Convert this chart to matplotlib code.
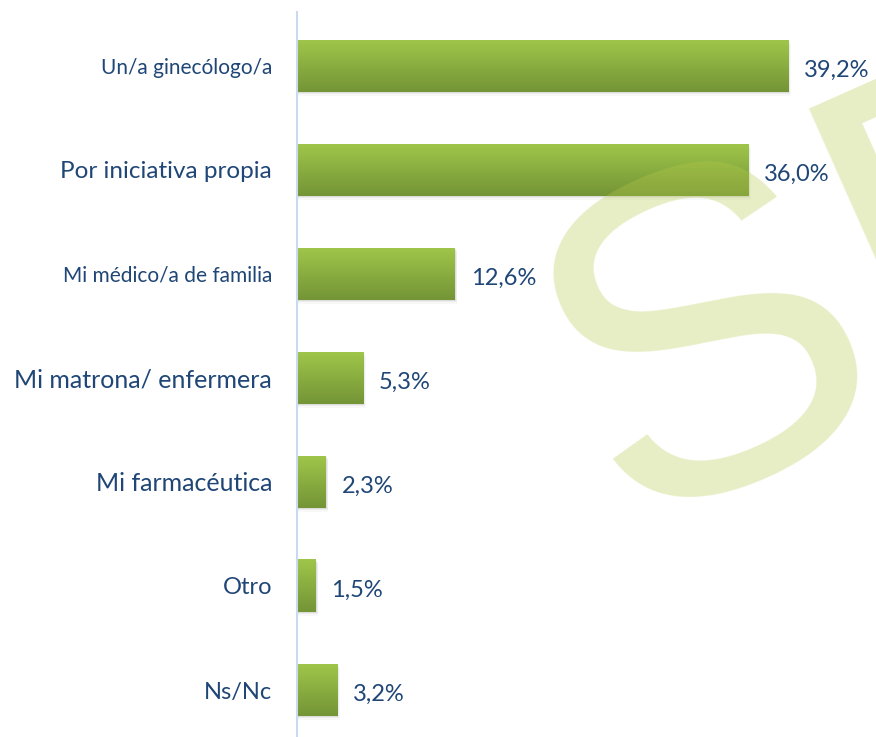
import numpy as np
import matplotlib
matplotlib.use('Agg')
import matplotlib.pyplot as plt
from matplotlib.patches import Rectangle

# Datos
categorias = ['Un/a ginecólogo/a', 'Por iniciativa propia', 'Mi médico/a de familia',
              'Mi matrona/ enfermera', 'Mi farmacéutica', 'Otro', 'Ns/Nc']
valores = [39.2, 36.0, 12.6, 5.3, 2.3, 1.5, 3.2]
etiquetas = ['39,2%', '36,0%', '12,6%', '5,3%', '2,3%', '1,5%', '3,2%']
tamanos = [15, 17.5, 15, 18, 18, 17, 17]

azul = '#1f4676'
plt.rcParams['font.family'] = ['Lato', 'DejaVu Sans']

fig = plt.figure(figsize=(8.76, 7.37), dpi=100)
ax = fig.add_axes([297 / 876, 0, 1 - 297 / 876, 1 - 12 / 737])

n = len(valores)
alto = 0.5
# degradado vertical de las barras
grad = np.linspace(0, 1, 100).reshape(-1, 1)
c_top = np.array([0x9f, 0xc6, 0x4a]) / 255
c_bot = np.array([0x74, 0x94, 0x36]) / 255
img = c_top + (c_bot - c_top) * grad[:, :, None] * np.ones((1, 1, 3))

for i, v in enumerate(valores):
    # sombra
    for k, a in enumerate([0.10, 0.07, 0.04]):
        d = 0.012 + 0.012 * k
        ax.add_patch(Rectangle((0, i - alto / 2 + d), v + 0.08 + 0.06 * k, alto,
                               color='#555555', alpha=a, lw=0, zorder=1))
    ax.imshow(img, extent=[0, v, i + alto / 2, i - alto / 2], aspect='auto', zorder=2,
              interpolation='bilinear')
    ax.text(v + 1.25, i + 0.04, etiquetas[i], color=azul, fontsize=17,
            va='center', ha='left', zorder=4)

ax.set_xlim(0, (876 - 297) / 12.53)
ax.set_ylim((737 - 66) / 104, (12 - 66) / 104)
ax.set_yticks(range(n))
ax.set_yticklabels(categorias, color=azul)
for lab, s in zip(ax.get_yticklabels(), tamanos):
    lab.set_fontsize(s)
ax.tick_params(axis='y', length=0, pad=18)
ax.set_xticks([])
for s in ['top', 'right', 'bottom']:
    ax.spines[s].set_visible(False)
ax.spines['left'].set_color('#c9d9ee')
ax.spines['left'].set_linewidth(1.5)
ax.patch.set_alpha(0)

# marca de agua
ax.text(623 / 876, 1 - 528 / 737, 'SE', fontsize=330, color='#b5cb4a', alpha=0.32,
        rotation=24, rotation_mode='anchor', ha='left', va='baseline',
        family='Liberation Sans', zorder=3, transform=fig.transFigure, clip_on=True)

fig.savefig('out.png', dpi=100)
